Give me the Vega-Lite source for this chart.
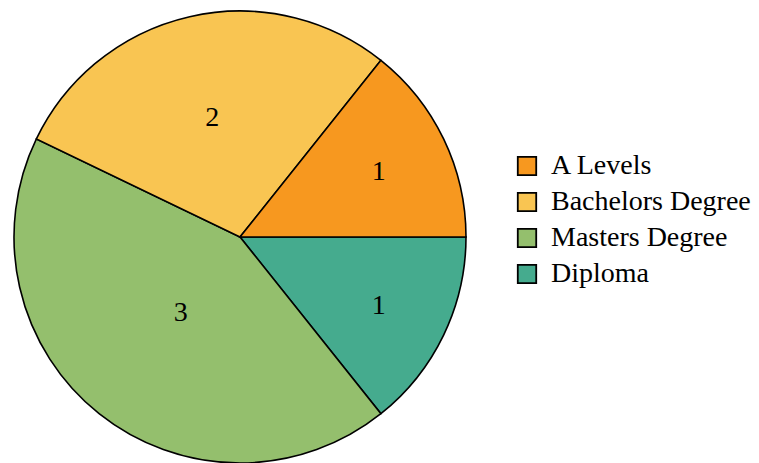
{
  "$schema": "https://vega.github.io/schema/vega-lite/v6.json",
  "autosize": {"type": "none"},
  "padding": {"left": 14, "top": 11, "right": 293, "bottom": 0},
  "width": 452,
  "height": 452,
  "background": "white",
  "data": {
    "values": [
      {"category": "Diploma", "count": 1, "rank": 1},
      {"category": "Masters Degree", "count": 3, "rank": 2},
      {"category": "Bachelors Degree", "count": 2, "rank": 3},
      {"category": "A Levels", "count": 1, "rank": 4}
    ]
  },
  "encoding": {
    "theta": {"field": "count", "type": "quantitative", "stack": true, "scale": {"range": [1.5707963268, 7.8539816340]}},
    "order": {"field": "rank", "type": "quantitative", "sort": "ascending"}
  },
  "layer": [
    {
      "mark": {"type": "arc", "outerRadius": 226, "stroke": "black", "strokeWidth": 1.6},
      "encoding": {
        "color": {
          "field": "category",
          "type": "nominal",
          "scale": {
            "domain": ["A Levels", "Bachelors Degree", "Masters Degree", "Diploma"],
            "range": ["#F7981F", "#F9C552", "#94BF6D", "#45AB8E"]
          },
          "legend": {
            "title": null,
            "orient": "none",
            "legendX": 499,
            "legendY": 141,
            "symbolType": "square",
            "symbolSize": 340,
            "symbolStrokeColor": "black",
            "symbolStrokeWidth": 1.8,
            "symbolOpacity": 1,
            "labelFont": "'Liberation Serif', 'DejaVu Serif'",
            "labelFontSize": 28,
            "labelColor": "black",
            "labelOffset": 10,
            "rowPadding": 8,
            "padding": 0,
            "labelLimit": 400
          }
        }
      }
    },
    {
      "mark": {"type": "text", "font": "'Liberation Serif', 'DejaVu Serif'", "fontSize": 28, "color": "black", "baseline": "middle", "align": "center", "dy": 2},
      "encoding": {
        "text": {"field": "count", "type": "quantitative"},
        "detail": {"field": "category", "type": "nominal"},
        "radius": {"field": "count", "type": "quantitative", "scale": {"type": "linear", "domain": [1, 3], "range": [154, 95], "zero": false}}
      }
    }
  ],
  "config": {"view": {"stroke": null}}
}
